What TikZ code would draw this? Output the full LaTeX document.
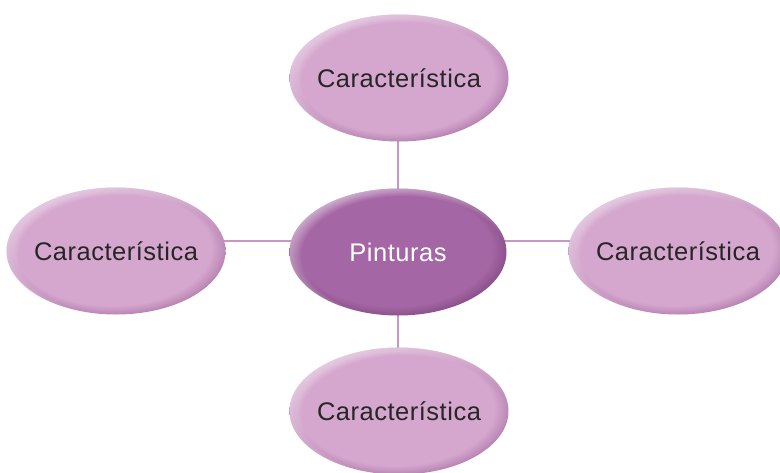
\documentclass[tikz,border=0pt]{standalone}
\usepackage{fontspec}
\newfontfamily\diagfont{Liberation Sans}[LetterSpace=2]
\usetikzlibrary{shapes.geometric,fadings,backgrounds}
\pgfdeclarelayer{paper}
\pgfsetlayers{paper,background,main}

\definecolor{connc}{RGB}{200,150,198}
\definecolor{txtdark}{RGB}{38,38,38}

\pgfdeclareradialshading{lightell}{\pgfpoint{-1.5bp}{2bp}}{%
  rgb(0bp)=(0.835,0.655,0.808); rgb(22.5bp)=(0.835,0.655,0.808);
  rgb(25.5bp)=(0.74,0.54,0.72); rgb(28bp)=(0.60,0.40,0.58); rgb(50bp)=(0.60,0.40,0.58)}
\pgfdeclareradialshading{darkell}{\pgfpoint{-1.5bp}{2bp}}{%
  rgb(0bp)=(0.643,0.400,0.643); rgb(22.5bp)=(0.643,0.400,0.643);
  rgb(25.5bp)=(0.56,0.33,0.56); rgb(28bp)=(0.42,0.22,0.42); rgb(50bp)=(0.42,0.22,0.42)}
\pgfdeclareradialshading{hlshade}{\pgfpoint{2.5bp}{-3bp}}{%
  rgb(0bp)=(0,0,0); rgb(23.5bp)=(0,0,0);
  rgb(28bp)=(0.65,0.65,0.65); rgb(50bp)=(0.65,0.65,0.65)}
\pgfdeclarefading{hlfade}{\pgfuseshading{hlshade}}

\newcommand\lbl[1]{\makebox[0pt]{#1}}

\tikzset{
  bubble/.style={ellipse, inner sep=0pt, draw=none,
    minimum width=219pt, minimum height=127pt,
    font=\diagfont\fontsize{25.5}{30}\selectfont,
    path picture={\fill[white, path fading=hlfade]
      (path picture bounding box.south west) rectangle (path picture bounding box.north east);}},
  leaf/.style={bubble, shading=lightell, text=txtdark},
  hub/.style={bubble, shading=darkell, text=white, minimum width=217pt},
  conn/.style={draw=connc, line width=2pt}
}

\begin{document}
\begin{tikzpicture}[x=1pt, y=-1pt]
  \useasboundingbox (0,0) rectangle (780,472);
  \begin{pgfonlayer}{paper}
    \fill[white] (0,0) rectangle (780,472);
  \end{pgfonlayer}

  \node[hub]  (mid)    at (398,252) {\lbl{Pinturas}};
  \node[leaf] (top)    at (399,78)  {\lbl{Característica}};
  \node[leaf] (bottom) at (399,411) {\lbl{Característica}};
  \node[leaf] (left)   at (116,251) {\lbl{Característica}};
  \node[leaf] (right)  at (678,251) {\lbl{Característica}};

  \coordinate (hl) at (0,241);
  \begin{scope}[on background layer]
    \draw[conn] (top.center -| mid.center) -- (mid.center);
    \draw[conn] (mid.center) -- (bottom.center -| mid.center);
    \draw[conn] (left.center |- hl) -- (mid.center |- hl);
    \draw[conn] (mid.center |- hl) -- (right.center |- hl);
  \end{scope}
\end{tikzpicture}
\end{document}
